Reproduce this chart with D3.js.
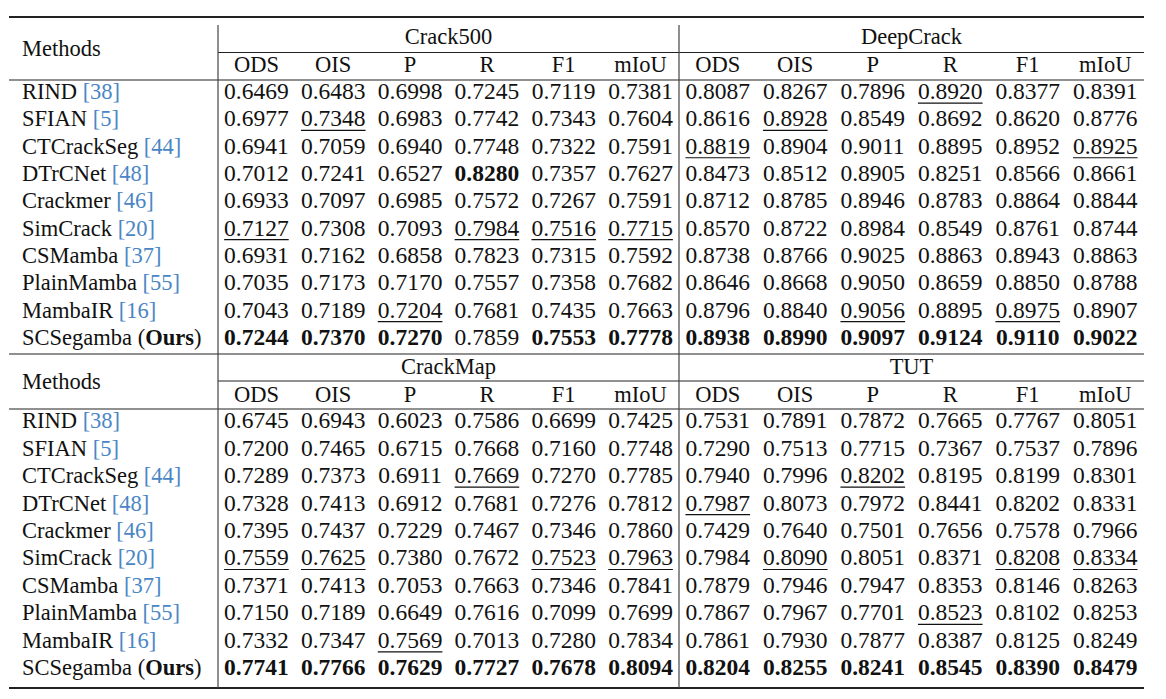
<!DOCTYPE html>
<html lang="en">
<head>
<meta charset="UTF-8">
<title>Table</title>
<style>
  body { margin: 0; background: #fff; }
  text { font-family: "Liberation Serif", "Times New Roman", serif; font-size: 22.5px; fill: #111; }
  text.num { font-size: 23.5px; }
</style>
</head>
<body>
<script src="https://cdnjs.cloudflare.com/ajax/libs/d3/7.8.5/d3.min.js"></script>
<script>
const width = 1166, height = 699;

const methods = ["RIND", "SFIAN", "CTCrackSeg", "DTrCNet", "Crackmer", "SimCrack", "CSMamba", "PlainMamba", "MambaIR", "SCSegamba"];
const cites = ["38", "5", "44", "48", "46", "20", "37", "55", "16", null];
const metrics = ["ODS", "OIS", "P", "R", "F1", "mIoU"];

const crack500 = [
  [0.6469, 0.6483, 0.6998, 0.7245, 0.7119, 0.7381],
  [0.6977, 0.7348, 0.6983, 0.7742, 0.7343, 0.7604],
  [0.6941, 0.7059, 0.6940, 0.7748, 0.7322, 0.7591],
  [0.7012, 0.7241, 0.6527, 0.8280, 0.7357, 0.7627],
  [0.6933, 0.7097, 0.6985, 0.7572, 0.7267, 0.7591],
  [0.7127, 0.7308, 0.7093, 0.7984, 0.7516, 0.7715],
  [0.6931, 0.7162, 0.6858, 0.7823, 0.7315, 0.7592],
  [0.7035, 0.7173, 0.7170, 0.7557, 0.7358, 0.7682],
  [0.7043, 0.7189, 0.7204, 0.7681, 0.7435, 0.7663],
  [0.7244, 0.7370, 0.7270, 0.7859, 0.7553, 0.7778]
];
const deepcrack = [
  [0.8087, 0.8267, 0.7896, 0.8920, 0.8377, 0.8391],
  [0.8616, 0.8928, 0.8549, 0.8692, 0.8620, 0.8776],
  [0.8819, 0.8904, 0.9011, 0.8895, 0.8952, 0.8925],
  [0.8473, 0.8512, 0.8905, 0.8251, 0.8566, 0.8661],
  [0.8712, 0.8785, 0.8946, 0.8783, 0.8864, 0.8844],
  [0.8570, 0.8722, 0.8984, 0.8549, 0.8761, 0.8744],
  [0.8738, 0.8766, 0.9025, 0.8863, 0.8943, 0.8863],
  [0.8646, 0.8668, 0.9050, 0.8659, 0.8850, 0.8788],
  [0.8796, 0.8840, 0.9056, 0.8895, 0.8975, 0.8907],
  [0.8938, 0.8990, 0.9097, 0.9124, 0.9110, 0.9022]
];
const crackmap = [
  [0.6745, 0.6943, 0.6023, 0.7586, 0.6699, 0.7425],
  [0.7200, 0.7465, 0.6715, 0.7668, 0.7160, 0.7748],
  [0.7289, 0.7373, 0.6911, 0.7669, 0.7270, 0.7785],
  [0.7328, 0.7413, 0.6912, 0.7681, 0.7276, 0.7812],
  [0.7395, 0.7437, 0.7229, 0.7467, 0.7346, 0.7860],
  [0.7559, 0.7625, 0.7380, 0.7672, 0.7523, 0.7963],
  [0.7371, 0.7413, 0.7053, 0.7663, 0.7346, 0.7841],
  [0.7150, 0.7189, 0.6649, 0.7616, 0.7099, 0.7699],
  [0.7332, 0.7347, 0.7569, 0.7013, 0.7280, 0.7834],
  [0.7741, 0.7766, 0.7629, 0.7727, 0.7678, 0.8094]
];
const tut = [
  [0.7531, 0.7891, 0.7872, 0.7665, 0.7767, 0.8051],
  [0.7290, 0.7513, 0.7715, 0.7367, 0.7537, 0.7896],
  [0.7940, 0.7996, 0.8202, 0.8195, 0.8199, 0.8301],
  [0.7987, 0.8073, 0.7972, 0.8441, 0.8202, 0.8331],
  [0.7429, 0.7640, 0.7501, 0.7656, 0.7578, 0.7966],
  [0.7984, 0.8090, 0.8051, 0.8371, 0.8208, 0.8334],
  [0.7879, 0.7946, 0.7947, 0.8353, 0.8146, 0.8263],
  [0.7867, 0.7967, 0.7701, 0.8523, 0.8102, 0.8253],
  [0.7861, 0.7930, 0.7877, 0.8387, 0.8125, 0.8249],
  [0.8204, 0.8255, 0.8241, 0.8545, 0.8390, 0.8479]
];
// row index of the underlined (second best) entry per metric column
const under500 = [5, 1, 8, 5, 5, 5];
const underDeep = [2, 1, 8, 0, 8, 2];
const underMap = [5, 5, 8, 2, 5, 5];
const underTut = [3, 5, 2, 7, 5, 5];

// header layout per block: top rule, dataset title centre, partial rule, metric row centre, body start/end, bottom rule
const blocks = [
  { left: { name: "Crack500", data: crack500, under: under500 },
    right: { name: "DeepCrack", data: deepcrack, under: underDeep },
    top: 17, title: 37, partial: 52.5, sub: 65, body: [78.5, 351.5], bottom: 354, vTop: 25 },
  { left: { name: "CrackMap", data: crackmap, under: underMap },
    right: { name: "TUT", data: tut, under: underTut },
    top: 354, title: 367, partial: 381, sub: 395, body: [407.5, 682], bottom: 688, vTop: 354 }
];

const x0 = 9, xSplit = 218, xMid = 679, x1 = 1144;
const citeColor = "#4a86c5";

const svg = d3.select("body").append("svg").attr("width", width).attr("height", height);

const xLeft = d3.scaleBand().domain(metrics).range([xSplit, xMid]);
const xRight = d3.scaleBand().domain(metrics).range([xMid, x1]);
const sideScale = [xLeft, xRight];

function hline(y, a, b, w) {
  svg.append("line").attr("x1", a).attr("x2", b).attr("y1", y).attr("y2", y)
    .attr("stroke", "#222").attr("stroke-width", w);
}

blocks.forEach((blk, bi) => {
  const yHeadLine = blk.partial, yBody = blk.body[0];
  const y = d3.scaleBand().domain(d3.range(methods.length)).range(blk.body);
  if (bi === 0) hline(blk.top, x0, x1, 2);
  hline(yHeadLine, xSplit, x1, 1);
  hline(yBody + 1.5, x0, x1, 1.2);
  hline(blk.bottom, x0, x1, bi === 1 ? 2 : 1.2);

  [xSplit, xMid].forEach(vx => svg.append("line").attr("x1", vx).attr("x2", vx)
    .attr("y1", blk.vTop).attr("y2", blk.bottom).attr("stroke", "#444").attr("stroke-width", 1.2));

  svg.append("text").attr("x", 22).attr("y", (blk.top + yBody) / 2 + 8).text("Methods");

  [blk.left, blk.right].forEach((ds, si) => {
    const xs = sideScale[si];
    const r = xs.range();
    svg.append("text").attr("x", (r[0] + r[1]) / 2).attr("y", blk.title + 7)
      .attr("text-anchor", "middle").text(ds.name);
    svg.selectAll(null).data(metrics).enter().append("text")
      .attr("x", d => xs(d) + xs.bandwidth() / 2).attr("y", blk.sub + 7)
      .attr("text-anchor", "middle").text(d => d);

    metrics.forEach((m, mi) => {
      const best = d3.maxIndex(ds.data, row => row[mi]);
      ds.data.forEach((row, ri) => {
        const cx = xs(m) + xs.bandwidth() / 2, cy = y(ri) + y.bandwidth() / 2 + 7;
        const t = svg.append("text").attr("class", "num").attr("x", cx).attr("y", cy)
          .attr("text-anchor", "middle").text(row[mi].toFixed(4));
        if (ri === best) t.attr("font-weight", "bold");
        if (ri === ds.under[mi]) {
          const w = t.node().getComputedTextLength();
          svg.append("line").attr("x1", cx - w / 2).attr("x2", cx + w / 2)
            .attr("y1", cy + 4).attr("y2", cy + 4).attr("stroke", "#111").attr("stroke-width", 1.2);
        }
      });
    });
  });

  methods.forEach((name, ri) => {
    const t = svg.append("text").attr("x", 22).attr("y", y(ri) + y.bandwidth() / 2 + 7);
    t.append("tspan").text(name + " ");
    if (cites[ri]) {
      t.append("tspan").attr("fill", citeColor).text("[" + cites[ri] + "]");
    } else {
      t.append("tspan").text("(");
      t.append("tspan").attr("font-weight", "bold").text("Ours");
      t.append("tspan").text(")");
    }
  });
});
</script>
</body>
</html>
